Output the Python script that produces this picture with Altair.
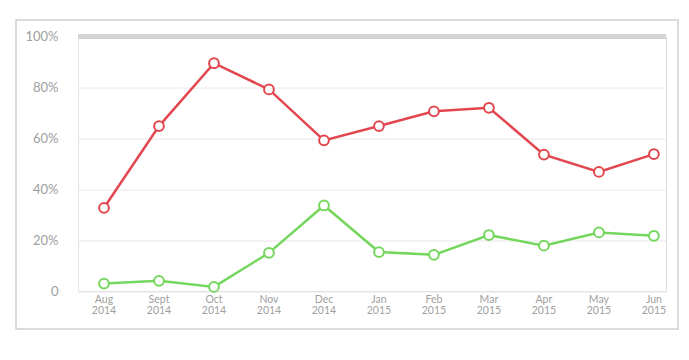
import altair as alt
import pandas as pd

months = ["Aug", "Sept", "Oct", "Nov", "Dec", "Jan", "Feb", "Mar", "Apr", "May", "Jun"]
years = ["2014", "2014", "2014", "2014", "2014", "2015", "2015", "2015", "2015", "2015", "2015"]
red_values = [32.7, 64.8, 89.5, 79.2, 59.2, 64.8, 70.6, 72.0, 53.6, 46.8, 53.8]
green_values = [2.9, 4.0, 1.6, 15.0, 33.6, 15.3, 14.2, 22.0, 17.8, 23.0, 21.7]
y_ticks = [0, 20, 40, 60, 80, 100]

RED = "#e2464e"
GREEN = "#74d65c"

rows = []
for i, (m, yr) in enumerate(zip(months, years)):
    rows.append({"i": i, "series": "red", "value": red_values[i]})
    rows.append({"i": i, "series": "green", "value": green_values[i]})
df = pd.DataFrame(rows)
labels_df = pd.DataFrame({"i": list(range(len(months))),
                          "label": [f"{m}\n{y}" for m, y in zip(months, years)]})

W, H = 588, 254.5
xscale = alt.Scale(domain=[-0.473, 10.22], nice=False, zero=False)
yscale = alt.Scale(domain=[0, 100], nice=False)

yaxis = alt.Axis(values=y_ticks, title=None, grid=True, gridColor="#e8e8e8",
                 gridWidth=1, domain=True, domainColor="#e3e3e3", ticks=False,
                 labelExpr="datum.value == 0 ? '0' : datum.value + '%'",
                 labelColor="#a0a0a0", labelFont="Lato", labelFontSize=13,
                 labelPadding=20)

color_scale = alt.Scale(domain=["red", "green"], range=[RED, GREEN])

# layer that owns the y axis and grid
top_rule = alt.Chart(pd.DataFrame({"v": [100]})).mark_rule(
    color="#d4d4d4", strokeWidth=5
).encode(y=alt.Y("v:Q", scale=yscale, axis=yaxis))

border = alt.Chart(pd.DataFrame({"a": [0]})).mark_rect(
    fill=None, stroke="#cfcfcf", strokeWidth=1.5
).encode(x=alt.value(-62), x2=alt.value(600), y=alt.value(-16.5), y2=alt.value(292.5))

base = alt.Chart(df).encode(
    x=alt.X("i:Q", scale=xscale, axis=None),
    y=alt.Y("value:Q", scale=yscale, axis=yaxis),
    color=alt.Color("series:N", scale=color_scale, legend=None),
    detail="series:N",
)
lines = base.mark_line(strokeWidth=2.5)
points = base.mark_point(filled=True, fill="white", size=95, strokeWidth=2, opacity=1).encode(
    stroke=alt.Stroke("series:N", scale=color_scale, legend=None))

xlabels = alt.Chart(labels_df).mark_text(
    lineBreak="\n", baseline="top", align="center", fontSize=10.5, font="Lato",
    color="#a0a0a0", lineHeight=11
).encode(x=alt.X("i:Q", scale=xscale, axis=None),
         y=alt.value(258), text="label:N")

chart = alt.layer(top_rule, border, lines, points, xlabels).properties(
    width=W, height=H,
    autosize=alt.AutoSizeParams(type="none"),
    padding={"left": 70, "top": 28.5, "right": 15, "bottom": 50},
).configure_view(stroke=None).configure(background="white")

chart.save("out.html", embed_options={"renderer": "svg", "actions": False})
